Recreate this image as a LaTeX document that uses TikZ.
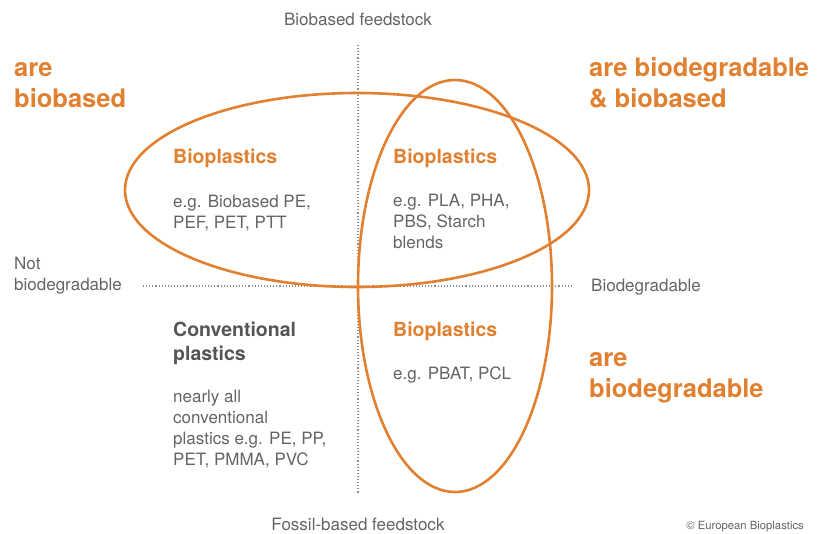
\documentclass[tikz,border=0pt]{standalone}
\usepackage{fontspec}
\setmainfont{TeX Gyre Heros}
\usepackage{xcolor}
\usepackage{tikz}
\usetikzlibrary{positioning}

\definecolor{bioorange}{RGB}{224,128,48}
\definecolor{txtgray}{RGB}{100,100,100}
\definecolor{headgray}{RGB}{85,85,85}
\definecolor{axisgray}{RGB}{140,140,140}

\begin{document}
\begin{tikzpicture}[x=1pt, y=-1pt,
		axis/.style={txtgray, font=\fontsize{17}{21}\selectfont, align=left, inner sep=0pt},
		big/.style={bioorange, font=\fontsize{25.5}{31}\selectfont\bfseries, align=left, inner sep=0pt, anchor=base west},
		head/.style={bioorange, font=\fontsize{19.5}{24}\selectfont\bfseries, align=left, inner sep=0pt, anchor=base west},
		body/.style={txtgray, font=\fontsize{17}{20.7}\selectfont, align=left, inner sep=0pt, anchor=base west},
		ring/.style={bioorange, line width=2.6pt},
		grid/.style={axisgray, line width=1.1pt, dotted}]
		\useasboundingbox (0,0) rectangle (818,533);
		% axes
		\coordinate (top) at (358,45);
		\coordinate (bottom) at (358,493);
		\coordinate (left) at (143,286);
		\coordinate (right) at (572,286);
		\draw[grid] (top) -- (bottom);
		\draw[grid] (left) -- (right);
		\node[axis, anchor=base] (biofeed) at (358,25) {Biobased feedstock};
		\node[axis, anchor=base] (fossilfeed) at (358,530) {Fossil-based feedstock};
		\node[axis, anchor=base west] (notdeg) at (14,290) {Not\\biodegradable};
		\node[axis, anchor=base west] (deg) at (591,291) {Biodegradable};
		% the two rings
		\draw[ring] (357,190) ellipse [x radius=232, y radius=97];
		\draw[ring] (455,286) ellipse [x radius=97, y radius=206];
		% corner labels (base = last line)
		\node[big] (isbio) at (14,107) {are\\biobased};
		\node[big] (isboth) at (589,107) {are biodegradable\\\& biobased};
		\node[big] (isdeg) at (589,397) {are\\biodegradable};
		% quadrants
		\node[head] (q1) at (173,163) {Bioplastics};
		\node[body] (q1ex) at (173,228) {e.g. Biobased PE,\\PEF, PET, PTT};
		\node[head] (q2) at (393,163) {Bioplastics};
		\node[body] (q2ex) at (393,248) {e.g. PLA, PHA,\\PBS, Starch\\blends};
		\node[head, headgray] (q3) at (173,360) {Conventional\\plastics};
		\node[body] (q3ex) at (173,465) {nearly all\\conventional\\plastics e.g. PE, PP,\\PET, PMMA, PVC};
		\node[head] (q4) at (393,336) {Bioplastics};
		\node[body] (q4ex) at (393,379) {e.g. PBAT, PCL};
		\node[txtgray, font=\fontsize{11.3}{13}\selectfont, inner sep=0pt, anchor=base east] (copy) at (804,529) {© European Bioplastics};
	\end{tikzpicture}
\end{document}
